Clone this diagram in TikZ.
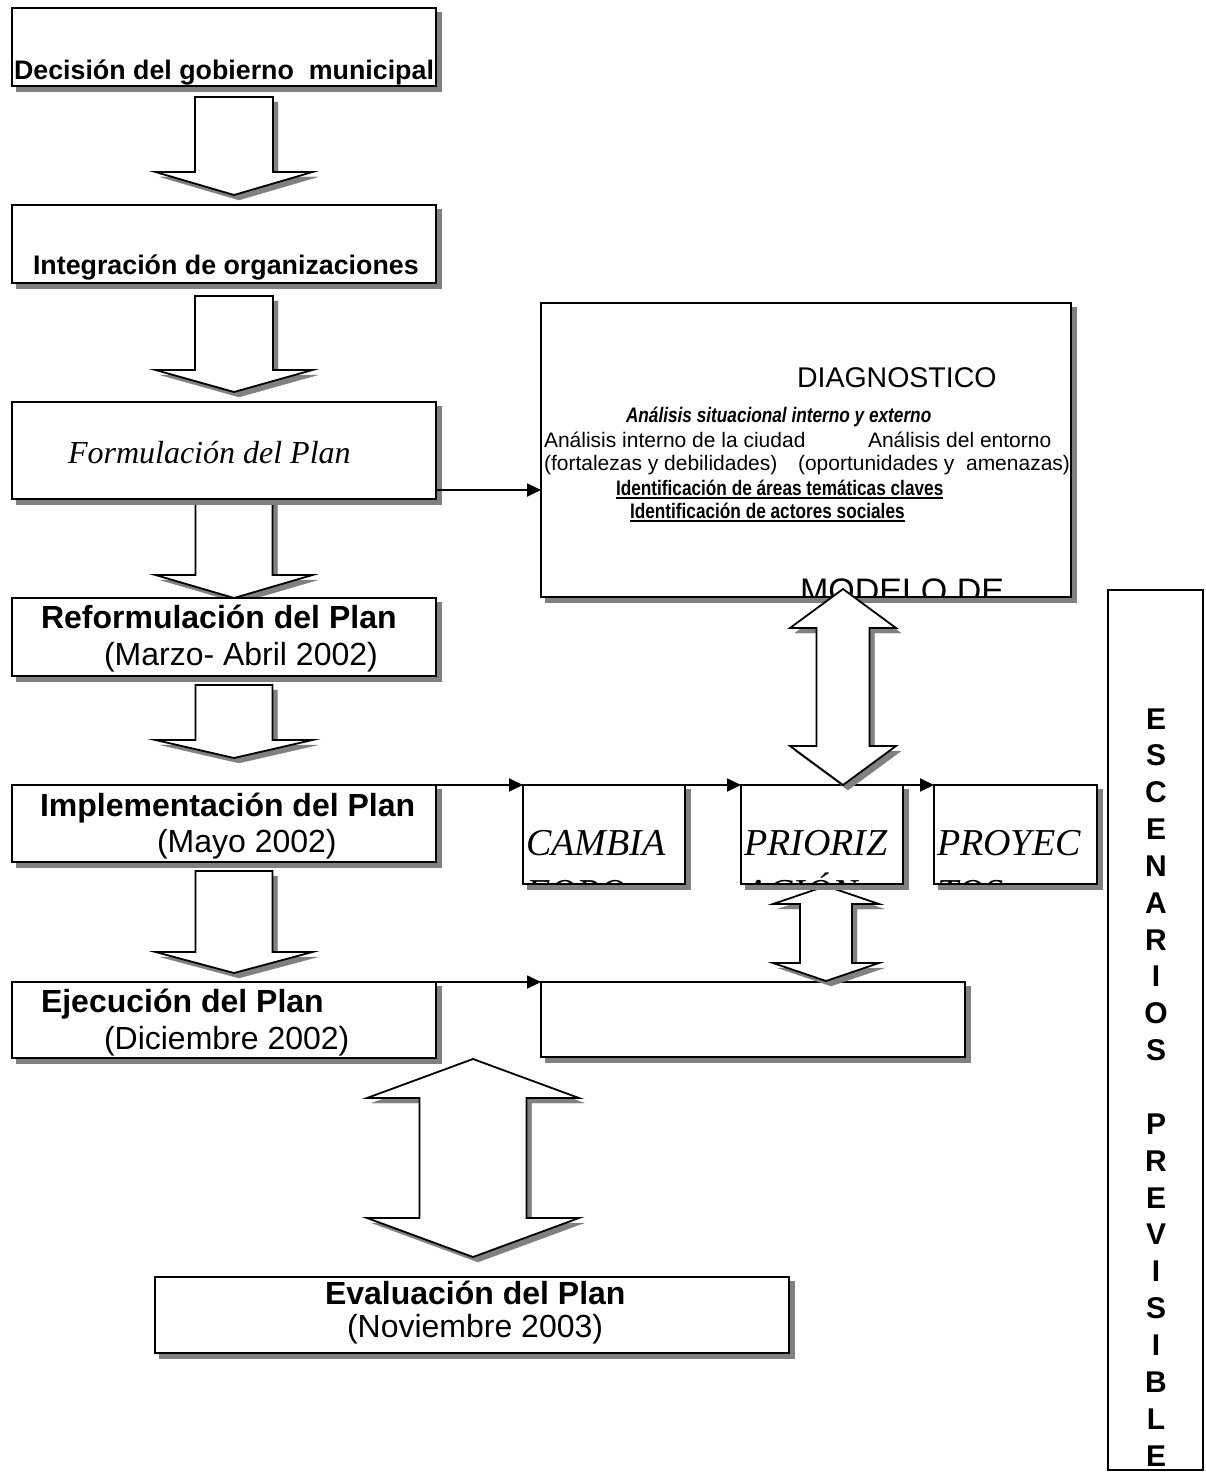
\documentclass[tikz,border=0pt]{standalone}
\usepackage{fontspec}
\setmainfont{Liberation Sans}
\newfontfamily\serifface{Liberation Serif}
\newfontfamily\narrowface[FakeStretch=0.82]{Liberation Sans}
\usetikzlibrary{arrows.meta,calc}
\definecolor{shade}{HTML}{808080}

\newcommand\fs[1]{\fontsize{#1}{#1}\selectfont}

% vertical block arrow pointing down: cx, top, head base, tip, shaft half-width, head half-width
\newcommand\blockdown[6]{%
  \path[blockarrow] ({#1-#5},#2) -- ({#1+#5},#2) -- ({#1+#5},#3) -- ({#1+#6},#3)
    -- (#1,#4) -- ({#1-#6},#3) -- ({#1-#5},#3) -- cycle;}
% vertical double block arrow: cx, top tip, top head base, bottom head base, bottom tip, shaft half, head half
\newcommand\blockboth[7]{%
  \path[blockarrow] (#1,#2) -- ({#1+#7},#3) -- ({#1+#6},#3) -- ({#1+#6},#4) -- ({#1+#7},#4)
    -- (#1,#5) -- ({#1-#7},#4) -- ({#1-#6},#4) -- ({#1-#6},#3) -- ({#1-#7},#3) -- cycle;}

\tikzset{
  every node/.style={inner sep=0pt, outer sep=0pt},
  sbox/.style={draw, line width=1.8pt, fill=white, rectangle,
    preaction={fill=shade, draw=shade, transform canvas={shift={(5pt,-5pt)}}}},
  plainbox/.style={draw, line width=1.8pt, fill=white, rectangle},
  blockarrow/.style={draw, line width=1.8pt, fill=white, line join=miter,
    preaction={fill=shade, draw=shade, transform canvas={shift={(5pt,-5pt)}}}},
  flow/.style={line width=1.8pt, -{Triangle[length=14pt,width=13pt]}},
  lbl/.style={anchor=base west},
  headA/.style={lbl, font={\fs{26.8}\bfseries}},
  headB/.style={lbl, font={\fs{32}\bfseries}},
  dateB/.style={lbl, font={\fs{32}}},
  serifit/.style={lbl, font={\serifface\itshape\fs{32}}},
  serifbig/.style={lbl, font={\serifface\itshape\fs{38}}},
  diagtxt/.style={lbl, font={\fs{21}}},
  diagnarrow/.style={lbl, font={\narrowface\bfseries\fs{21}}},
  esc/.style={anchor=base, font={\fs{30}\bfseries}},
}

\begin{document}
\begin{tikzpicture}[x=1pt, y=-1pt]
\useasboundingbox (0,0) rectangle (1205,1474);

% ---- block arrows of the main column ----
\blockdown{234}{97}{172}{195}{39}{78.5}
\blockdown{234}{296}{370}{392}{39}{78.5}
\blockdown{234}{499}{575}{598}{38.5}{78.5}
\blockdown{234}{685}{740}{758}{38.5}{78.5}
\blockdown{234}{871}{952}{973}{38.5}{78.5}
\blockboth{473}{1059}{1098}{1218}{1257}{53.5}{106}

% ---- main column boxes ----
\node[sbox, minimum width=424pt, minimum height=78pt] (decision) at (224,47) {};
\node[headA] (tdecision) at (14,80) {Decisión del gobierno~ municipal};

\node[sbox, minimum width=424pt, minimum height=78pt] (integr) at (224,244) {};
\node[headA] (tinteg) at (33,274) {Integración de organizaciones};

\node[sbox, minimum width=424pt, minimum height=97pt] (formul) at (224,450.5) {};
\node[serifit] (tformul) at (68,463) {Formulación del Plan};

\node[sbox, minimum width=424pt, minimum height=78pt] (reform) at (224,637) {};
\node[headB] (treform) at (41,628) {Reformulación del Plan};
\node[dateB] (dreform) at (104,665) {(Marzo- Abril 2002)};

\node[sbox, minimum width=424pt, minimum height=77pt] (impl) at (224,823.5) {};
\node[headB] (timpl) at (40,816) {Implementación del Plan};
\node[dateB] (dimpl) at (157,852) {(Mayo 2002)};

\node[sbox, minimum width=424pt, minimum height=76pt] (ejec) at (224,1020) {};
\node[headB] (tejec) at (41,1012) {Ejecución del Plan};
\node[dateB] (dejec) at (104,1049) {(Diciembre 2002)};

\node[sbox, minimum width=634pt, minimum height=76pt] (eval) at (472,1315) {};
\node[headB] (teval) at (325,1304) {Evaluación del Plan};
\node[dateB] (deval) at (347,1337) {(Noviembre 2003)};

% ---- diagnosis box ----
\node[sbox, minimum width=530pt, minimum height=294pt] (diag) at (806,450) {};
\begin{scope}
  \clip (diag.north west) rectangle (diag.south east);
  \node[lbl, font={\fs{28.5}}] (tdiag) at (797,387) {DIAGNOSTICO};
  \node[diagnarrow, font={\narrowface\bfseries\itshape\fs{21}}] (tsit) at (626,422) {Análisis situacional interno y externo};
  \node[diagtxt] (tint) at (544,447) {Análisis interno de la ciudad};
  \node[diagtxt] (tent) at (868,447) {Análisis del entorno};
  \node[diagtxt] (tfort) at (544,470) {(fortalezas y debilidades)};
  \node[diagtxt] (topor) at (798,470) {(oportunidades y~ amenazas)};
  \node[diagnarrow] (tareas) at (616,495) {Identificación de áreas temáticas claves};
  \node[diagnarrow] (tactor) at (630,518) {Identificación de actores sociales};
  \draw[line width=1.4pt] ($(tareas.base west)+(0,3)$) -- ($(tareas.base east)+(0,3)$);
  \draw[line width=1.4pt] ($(tactor.base west)+(0,3)$) -- ($(tactor.base east)+(0,3)$);
  \node[lbl, font={\fs{34}}] (tmodelo) at (800,602) {MODELO DE};
\end{scope}
\draw[line width=1.8pt] (diag.north west) rectangle (diag.south east);

\coordinate (fd) at ($(formul.south east)+(0,-9)$);
\draw[flow] (fd) -- (fd -| diag.west);

% ---- lower right boxes ----
\node[sbox, minimum width=424pt, minimum height=75pt] (empty) at (753,1019.5) {};
\blockboth{826}{886}{904}{963}{981}{26}{53}

\newcommand\clipbox[5]{% name, cx, width, first line, second line
  \node[sbox, minimum width=#3pt, minimum height=99pt] (#1) at (#2,834.5) {};
  \begin{scope}
    \clip (#1.north west) rectangle (#1.south east);
    \node[serifbig] (#1a) at ($(#1.north west)+(3,70)$) {#4};
    \node[serifbig] (#1b) at ($(#1.north west)+(3,120)$) {#5};
  \end{scope}
  \draw[line width=1.8pt] (#1.north west) rectangle (#1.south east);}
\clipbox{cambia}{604}{162}{CAMBIA}{FORO}
\clipbox{prior}{822}{162}{PRIORIZ}{ACIÓN}
\clipbox{proyec}{1015.5}{163}{PROYEC}{TOS}

\blockboth{843}{589}{628}{746}{785}{26.5}{53}

% ---- connectors ----
\draw[flow] (impl.north east) -- (cambia.north west);
\draw[flow] (cambia.north east) -- (prior.north west);
\draw[flow] (prior.north east) -- (proyec.north west);
\draw[flow] (ejec.north east) -- (empty.north west);

% ---- scenarios column ----
\node[plainbox, minimum width=95pt, minimum height=880pt] (escen) at (1155.5,1030) {};
\foreach \l [count=\i from 0] in {E,S,C,E,N,A,R,I,O,S}
  \node[esc] (escA\i) at (1156,{729+\i*36.85}) {\l};
\foreach \l [count=\i from 0] in {P,R,E,V,I,S,I,B,L,E}
  \node[esc] (escB\i) at (1156,{729+(\i+11)*36.85}) {\l};
\end{tikzpicture}
\end{document}
